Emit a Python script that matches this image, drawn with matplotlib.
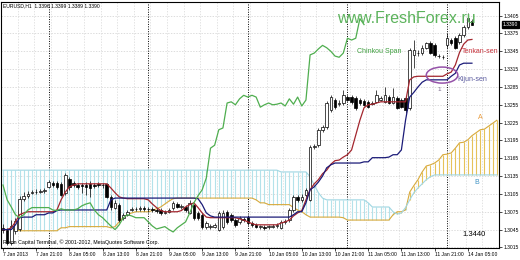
import numpy as np
import matplotlib.pyplot as plt
from matplotlib.patches import Ellipse

plt.rcParams['font.family'] = ['Liberation Sans', 'DejaVu Sans']

# EURUSD H1, 7 Jan 2013 13:00 .. 14 Jan 2013 06:00 (bar index = x)
x_labels = ['7 Jan 2013', '7 Jan 21:00', '8 Jan 05:00', '8 Jan 13:00', '8 Jan 21:00',
            '9 Jan 05:00', '9 Jan 13:00', '9 Jan 21:00', '10 Jan 05:00', '10 Jan 13:00',
            '10 Jan 21:00', '11 Jan 05:00', '11 Jan 13:00', '11 Jan 21:00', '14 Jan 05:00']
x_label_pos = [0, 8, 16, 24, 32, 40, 48, 56, 64, 72, 80, 88, 96, 104, 112]
day_breaks = [11, 35, 59, 83, 107]
price_ticks = [1.3015, 1.3045, 1.3075, 1.3105, 1.3135, 1.3165, 1.3195,
               1.3225, 1.3255, 1.3285, 1.3315, 1.3345, 1.3375, 1.3405]

opens = [1.3048, 1.3045, 1.3023, 1.3043, 1.3046, 1.3097, 1.3102, 1.3107, 1.3108, 1.3108,
         1.3110, 1.3117, 1.3124, 1.3124, 1.3122, 1.3107, 1.3130, 1.3124, 1.3120, 1.3120,
         1.3120, 1.3122, 1.3120, 1.3122, 1.3120, 1.3122, 1.3100, 1.3082, 1.3087, 1.3065,
         1.3070, 1.3078, 1.3080, 1.3080, 1.3082, 1.3080, 1.3080, 1.3078, 1.3078, 1.3073,
         1.3075, 1.3082, 1.3088, 1.3083, 1.3083, 1.3073, 1.3087, 1.3073, 1.3070, 1.3050,
         1.3050, 1.3050, 1.3045, 1.3050, 1.3075, 1.3070, 1.3061, 1.3058, 1.3063, 1.3066,
         1.3056, 1.3053, 1.3050, 1.3050, 1.3050, 1.3050, 1.3051, 1.3048, 1.3058, 1.3061,
         1.3078, 1.3100, 1.3095, 1.3103, 1.3095, 1.3184, 1.3187, 1.3213, 1.3218, 1.3246,
         1.3263, 1.3256, 1.3258, 1.3268, 1.3268, 1.3266, 1.3263, 1.3261, 1.3260, 1.3256,
         1.3260, 1.3263, 1.3260, 1.3268, 1.3258, 1.3266, 1.3263, 1.3266, 1.3250, 1.3339,
         1.3342, 1.3342, 1.3351, 1.3359, 1.3355, 1.3337, 1.3335, 1.3355, 1.3364, 1.3367,
         1.3360, 1.3372, 1.3386, 1.3396]
highs = [1.3055, 1.3048, 1.3061, 1.3065, 1.3102, 1.3108, 1.3110, 1.3112, 1.3113, 1.3113,
         1.3115, 1.3129, 1.3127, 1.3127, 1.3125, 1.3140, 1.3134, 1.3127, 1.3124, 1.3124,
         1.3125, 1.3127, 1.3124, 1.3125, 1.3124, 1.3124, 1.3103, 1.3095, 1.3090, 1.3073,
         1.3078, 1.3083, 1.3083, 1.3085, 1.3085, 1.3083, 1.3083, 1.3082, 1.3082, 1.3078,
         1.3082, 1.3093, 1.3092, 1.3088, 1.3087, 1.3095, 1.3088, 1.3077, 1.3073, 1.3060,
         1.3055, 1.3056, 1.3077, 1.3078, 1.3078, 1.3073, 1.3065, 1.3068, 1.3066, 1.3070,
         1.3060, 1.3056, 1.3053, 1.3053, 1.3053, 1.3055, 1.3056, 1.3061, 1.3063, 1.3082,
         1.3103, 1.3103, 1.3105, 1.3115, 1.3187, 1.3189, 1.3216, 1.3221, 1.3261, 1.3271,
         1.3266, 1.3263, 1.3280, 1.3271, 1.3271, 1.3270, 1.3266, 1.3265, 1.3263, 1.3261,
         1.3280, 1.3270, 1.3285, 1.3271, 1.3283, 1.3270, 1.3266, 1.3270, 1.3351, 1.3364,
         1.3347, 1.3355, 1.3360, 1.3362, 1.3359, 1.3340, 1.3339, 1.3376, 1.3367, 1.3371,
         1.3376, 1.3389, 1.3409, 1.3399]
lows = [1.3040, 1.3019, 1.3019, 1.3038, 1.3043, 1.3093, 1.3098, 1.3105, 1.3105, 1.3107,
        1.3107, 1.3115, 1.3117, 1.3113, 1.3102, 1.3103, 1.3112, 1.3117, 1.3113, 1.3107,
        1.3103, 1.3100, 1.3115, 1.3117, 1.3115, 1.3098, 1.3078, 1.3080, 1.3058, 1.3061,
        1.3068, 1.3077, 1.3077, 1.3077, 1.3077, 1.3075, 1.3075, 1.3073, 1.3070, 1.3071,
        1.3073, 1.3078, 1.3082, 1.3080, 1.3075, 1.3071, 1.3061, 1.3061, 1.3046, 1.3046,
        1.3046, 1.3048, 1.3043, 1.3046, 1.3055, 1.3058, 1.3050, 1.3055, 1.3058, 1.3053,
        1.3050, 1.3048, 1.3046, 1.3045, 1.3046, 1.3048, 1.3048, 1.3046, 1.3055, 1.3058,
        1.3075, 1.3092, 1.3092, 1.3100, 1.3093, 1.3181, 1.3184, 1.3209, 1.3214, 1.3243,
        1.3248, 1.3253, 1.3255, 1.3261, 1.3256, 1.3246, 1.3255, 1.3253, 1.3250, 1.3255,
        1.3258, 1.3261, 1.3258, 1.3256, 1.3256, 1.3248, 1.3250, 1.3241, 1.3246, 1.3317,
        1.3337, 1.3339, 1.3349, 1.3340, 1.3335, 1.3334, 1.3332, 1.3351, 1.3355, 1.3349,
        1.3357, 1.3369, 1.3382, 1.3389]
closes = [1.3045, 1.3023, 1.3051, 1.3060, 1.3097, 1.3102, 1.3105, 1.3108, 1.3108, 1.3110,
          1.3112, 1.3125, 1.3120, 1.3117, 1.3103, 1.3137, 1.3117, 1.3120, 1.3117, 1.3119,
          1.3117, 1.3115, 1.3119, 1.3120, 1.3120, 1.3100, 1.3083, 1.3090, 1.3061, 1.3070,
          1.3075, 1.3080, 1.3080, 1.3082, 1.3080, 1.3080, 1.3078, 1.3077, 1.3073, 1.3075,
          1.3078, 1.3090, 1.3083, 1.3085, 1.3078, 1.3090, 1.3065, 1.3065, 1.3050, 1.3056,
          1.3050, 1.3053, 1.3073, 1.3073, 1.3058, 1.3061, 1.3053, 1.3065, 1.3061, 1.3056,
          1.3053, 1.3050, 1.3050, 1.3048, 1.3050, 1.3051, 1.3053, 1.3058, 1.3060, 1.3078,
          1.3100, 1.3095, 1.3100, 1.3112, 1.3184, 1.3186, 1.3213, 1.3218, 1.3258, 1.3268,
          1.3251, 1.3258, 1.3271, 1.3263, 1.3260, 1.3250, 1.3258, 1.3255, 1.3251, 1.3258,
          1.3271, 1.3266, 1.3271, 1.3258, 1.3268, 1.3250, 1.3251, 1.3246, 1.3347, 1.3347,
          1.3342, 1.3351, 1.3359, 1.3343, 1.3339, 1.3337, 1.3335, 1.3367, 1.3359, 1.3351,
          1.3372, 1.3386, 1.3401, 1.3390]

tenkan = [1.3045, 1.3045, 1.3048, 1.3058, 1.3070, 1.3073, 1.3075, 1.3075, 1.3075, 1.3075,
          1.3075, 1.3075, 1.3075, 1.3078, 1.3095, 1.3108, 1.3117, 1.3120, 1.3122, 1.3122,
          1.3122, 1.3122, 1.3122, 1.3122, 1.3122, 1.3122, 1.3115, 1.3107, 1.3100, 1.3098,
          1.3097, 1.3097, 1.3097, 1.3097, 1.3097, 1.3095, 1.3088, 1.3082, 1.3077, 1.3075,
          1.3075, 1.3075, 1.3075, 1.3077, 1.3083, 1.3087, 1.3090, 1.3082, 1.3073, 1.3066,
          1.3065, 1.3065, 1.3065, 1.3065, 1.3065, 1.3065, 1.3065, 1.3063, 1.3061, 1.3058,
          1.3055, 1.3053, 1.3053, 1.3053, 1.3053, 1.3053, 1.3053, 1.3056, 1.3058, 1.3061,
          1.3068, 1.3073, 1.3077, 1.3095, 1.3112, 1.3122, 1.3129, 1.3139, 1.3145, 1.3155,
          1.3161, 1.3162, 1.3167, 1.3171, 1.3179, 1.3204, 1.3229, 1.3250, 1.3255, 1.3256,
          1.3258, 1.3260, 1.3260, 1.3260, 1.3260, 1.3260, 1.3260, 1.3260, 1.3297, 1.3302,
          1.3303, 1.3303, 1.3303, 1.3303, 1.3303, 1.3303, 1.3303, 1.3307, 1.3310, 1.3322,
          1.3343, 1.3357, 1.3364, 1.3365]
kijun = [1.3045, 1.3045, 1.3045, 1.3053, 1.3065, 1.3066, 1.3066, 1.3066, 1.3070, 1.3070,
         1.3070, 1.3073, 1.3073, 1.3077, 1.3078, 1.3078, 1.3078, 1.3078, 1.3078, 1.3078,
         1.3078, 1.3078, 1.3078, 1.3078, 1.3078, 1.3078, 1.3095, 1.3098, 1.3098, 1.3098,
         1.3098, 1.3098, 1.3098, 1.3098, 1.3098, 1.3098, 1.3098, 1.3098, 1.3098, 1.3098,
         1.3098, 1.3098, 1.3098, 1.3098, 1.3098, 1.3098, 1.3098, 1.3097, 1.3087, 1.3073,
         1.3068, 1.3066, 1.3066, 1.3066, 1.3066, 1.3066, 1.3066, 1.3066, 1.3066, 1.3066,
         1.3066, 1.3066, 1.3066, 1.3066, 1.3066, 1.3066, 1.3066, 1.3066, 1.3066, 1.3066,
         1.3070, 1.3075, 1.3075, 1.3090, 1.3112, 1.3117, 1.3125, 1.3135, 1.3149, 1.3154,
         1.3157, 1.3157, 1.3157, 1.3157, 1.3157, 1.3157, 1.3157, 1.3159, 1.3159, 1.3166,
         1.3166, 1.3166, 1.3166, 1.3167, 1.3171, 1.3171, 1.3179, 1.3229, 1.3268, 1.3276,
         1.3285, 1.3293, 1.3297, 1.3297, 1.3297, 1.3297, 1.3297, 1.3297, 1.3303, 1.3308,
         1.3322, 1.3325, 1.3325, 1.3325]
chikou = [1.3120, 1.3095, 1.3083, 1.3070, 1.3065, 1.3070, 1.3078, 1.3082, 1.3082, 1.3082,
          1.3082, 1.3082, 1.3078, 1.3077, 1.3080, 1.3078, 1.3078, 1.3078, 1.3080, 1.3085,
          1.3088, 1.3090, 1.3078, 1.3070, 1.3065, 1.3058, 1.3051, 1.3045, 1.3053, 1.3065,
          1.3070, 1.3068, 1.3065, 1.3065, 1.3065, 1.3058, 1.3051, 1.3046, 1.3048, 1.3050,
          1.3045, 1.3041, 1.3048, 1.3053, 1.3058, 1.3073, 1.3090, 1.3102, 1.3112, 1.3132,
          1.3182, 1.3187, 1.3213, 1.3216, 1.3258, 1.3260, 1.3255, 1.3265, 1.3271, 1.3268,
          1.3271, 1.3268, 1.3251, 1.3255, 1.3258, 1.3255, 1.3256, 1.3258, 1.3253, 1.3265,
          1.3256, 1.3268, 1.3253, 1.3263, 1.3339, 1.3342, 1.3349, 1.3355, 1.3351, 1.3345,
          1.3337, 1.3335, 1.3342, 1.3367, 1.3364, 1.3367, 1.3400, 1.3390]
senkou_a = [1.3045, 1.3045, 1.3045, 1.3045, 1.3043, 1.3043, 1.3043, 1.3043, 1.3043, 1.3043,
            1.3043, 1.3043, 1.3043, 1.3043, 1.3048, 1.3048, 1.3050, 1.3050, 1.3050, 1.3050,
            1.3050, 1.3050, 1.3050, 1.3050, 1.3050, 1.3050, 1.3048, 1.3050, 1.3058, 1.3066,
            1.3070, 1.3073, 1.3075, 1.3075, 1.3075, 1.3075, 1.3077, 1.3080, 1.3083, 1.3088,
            1.3093, 1.3097, 1.3098, 1.3098, 1.3098, 1.3098, 1.3098, 1.3098, 1.3098, 1.3098,
            1.3098, 1.3098, 1.3098, 1.3098, 1.3098, 1.3098, 1.3098, 1.3098, 1.3098, 1.3098,
            1.3098, 1.3095, 1.3090, 1.3090, 1.3087, 1.3087, 1.3087, 1.3087, 1.3087, 1.3087,
            1.3082, 1.3078, 1.3075, 1.3070, 1.3066, 1.3066, 1.3066, 1.3066, 1.3066, 1.3066,
            1.3066, 1.3066, 1.3065, 1.3061, 1.3061, 1.3061, 1.3061, 1.3061, 1.3061, 1.3061,
            1.3061, 1.3061, 1.3061, 1.3061, 1.3070, 1.3075, 1.3075, 1.3078, 1.3108, 1.3119,
            1.3129, 1.3142, 1.3152, 1.3154, 1.3157, 1.3162, 1.3171, 1.3172, 1.3174, 1.3182,
            1.3191, 1.3192, 1.3196, 1.3203, 1.3208, 1.3213, 1.3214, 1.3219, 1.3224, 1.3229]
senkou_b = [1.3145, 1.3145, 1.3145, 1.3145, 1.3145, 1.3145, 1.3145, 1.3145, 1.3145, 1.3145,
            1.3145, 1.3145, 1.3145, 1.3145, 1.3145, 1.3145, 1.3145, 1.3145, 1.3145, 1.3145,
            1.3145, 1.3145, 1.3145, 1.3145, 1.3145, 1.3145, 1.3145, 1.3145, 1.3145, 1.3145,
            1.3145, 1.3145, 1.3145, 1.3145, 1.3145, 1.3145, 1.3145, 1.3145, 1.3145, 1.3145,
            1.3145, 1.3145, 1.3145, 1.3145, 1.3145, 1.3145, 1.3145, 1.3145, 1.3145, 1.3145,
            1.3145, 1.3145, 1.3145, 1.3145, 1.3145, 1.3145, 1.3145, 1.3145, 1.3145, 1.3145,
            1.3145, 1.3145, 1.3145, 1.3145, 1.3145, 1.3145, 1.3145, 1.3142, 1.3142, 1.3142,
            1.3142, 1.3142, 1.3142, 1.3142, 1.3134, 1.3120, 1.3107, 1.3098, 1.3095, 1.3095,
            1.3095, 1.3095, 1.3095, 1.3095, 1.3095, 1.3095, 1.3095, 1.3095, 1.3090, 1.3083,
            1.3083, 1.3083, 1.3083, 1.3083, 1.3075, 1.3071, 1.3073, 1.3082, 1.3095, 1.3107,
            1.3115, 1.3122, 1.3129, 1.3134, 1.3137, 1.3137, 1.3137, 1.3137, 1.3137, 1.3137,
            1.3137, 1.3137, 1.3137, 1.3137, 1.3137, 1.3137, 1.3137, 1.3137, 1.3137, 1.3137]

BULL_UP = '#b4e2ea'     # cloud when span B is above span A
BEAR_UP = '#e6c25a'     # cloud when span A is above span B

fig = plt.figure(figsize=(5.2, 2.6), dpi=100)
ax = fig.add_axes([1 / 520, 12 / 260, 498 / 520, 246 / 260])
ax.set_xlim(-0.48, 119.52)
ax.set_ylim(1.3014, 1.3428)

# grid + day separators
for p in price_ticks:
    ax.axhline(p, color='#cfcfcf', lw=0.5, ls=(0, (2, 2)), zorder=0)
for gx in np.arange(3.5, 120, 4):
    ax.axvline(gx, color='#d8d8d8', lw=0.5, ls=(0, (2, 2)), zorder=0)
for d in day_breaks:
    ax.axvline(d, color='black', lw=0.7, ls=(0, (1, 1.5)), zorder=0.5)

# kumo as a histogram of vertical strokes
a = np.array(senkou_a)
b = np.array(senkou_b)
ci = np.arange(len(a))
ax.vlines(ci[b >= a], a[b >= a], b[b >= a], colors=BULL_UP, lw=0.8, zorder=1)
ax.vlines(ci[a > b], b[a > b], a[a > b], colors=BEAR_UP, lw=0.8, zorder=1)
ax.plot(ci, a, color='#d8aa3c', lw=0.8, zorder=2)
ax.plot(ci, b, color='#9fd6e2', lw=0.8, zorder=2)

# candles
o = np.array(opens)
h = np.array(highs)
l = np.array(lows)
c = np.array(closes)
idx = np.arange(len(o))
ax.vlines(idx, l, h, colors='black', lw=0.5, zorder=3)
body = np.maximum(np.abs(c - o), 0.00003)
up = c >= o
ax.bar(idx[up], body[up], bottom=o[up], width=0.62, color='white',
       edgecolor='black', linewidth=0.5, zorder=4)
ax.bar(idx[~up], body[~up], bottom=c[~up], width=0.62, color='black',
       edgecolor='black', linewidth=0.5, zorder=4)

# ichimoku lines
ax.plot(idx, tenkan, color='#a3262e', lw=0.9, zorder=5)
ax.plot(idx, kijun, color='#1b1b78', lw=0.9, zorder=5)
ax.plot(np.arange(len(chikou)), chikou, color='#4fae4f', lw=0.9, zorder=5)

# annotations
ax.text(97.1, 1.3401, 'www.FreshForex.ru', color='#5cb35c', fontsize=11.5,
        ha='center', va='center', zorder=6)
ax.text(85.3, 1.3344, 'Chinkou Span', color='#3f9f3f', fontsize=5, va='center', zorder=6)
ax.text(110.6, 1.3344, 'Tenkan-sen', color='#c8323c', fontsize=5, va='center', zorder=6)
ax.text(109.6, 1.3297, 'Kijun-sen', color='#5a5a9e', fontsize=5, va='center', zorder=6)
ax.text(104.8, 1.3280, '1', color='#7a6a8a', fontsize=4.5, va='center', zorder=6)
ax.text(114.5, 1.3233, 'A', color='#e89a3c', fontsize=5, va='center', zorder=6)
ax.text(113.5, 1.3125, 'B', color='#3f92c4', fontsize=5, va='center', zorder=6)
ax.text(110.8, 1.3036, '1.3440', color='black', fontsize=5.5, va='center', zorder=6)
ax.add_patch(Ellipse((105.8, 1.3305), 7.6, 0.0027, fill=False,
                     edgecolor='#9552a8', lw=1.1, zorder=6))

# axes styling, MT4 look
for s in ax.spines.values():
    s.set_color('black')
    s.set_linewidth(0.8)
ax.yaxis.tick_right()
ax.set_yticks(price_ticks)
ax.set_yticklabels([f'{p:.4f}' for p in price_ticks])
ax.set_xticks(x_label_pos)
ax.set_xticklabels(x_labels, ha='left')
ax.tick_params(axis='both', length=2, width=0.5, labelsize=3.6, pad=1)

ax.annotate('1.3390', xy=(1.0, closes[-1]), xycoords=('axes fraction', 'data'),
            xytext=(2.5, 0), textcoords='offset points', fontsize=3.6, color='white',
            va='center', ha='left',
            bbox=dict(boxstyle='square,pad=0.15', fc='black', ec='black'))

fig.text(3 / 520, 1 - 6 / 260, 'EURUSD,H1  1.3396 1.3399 1.3389 1.3390',
         fontsize=3.6, va='center')
fig.text(3 / 520, 1 - 242 / 260,
         'Rixon Capital Terminal, \u00a9 2001-2012, MetaQuotes Software Corp.',
         fontsize=3.8, va='center')

fig.savefig('out.png', dpi=100)
